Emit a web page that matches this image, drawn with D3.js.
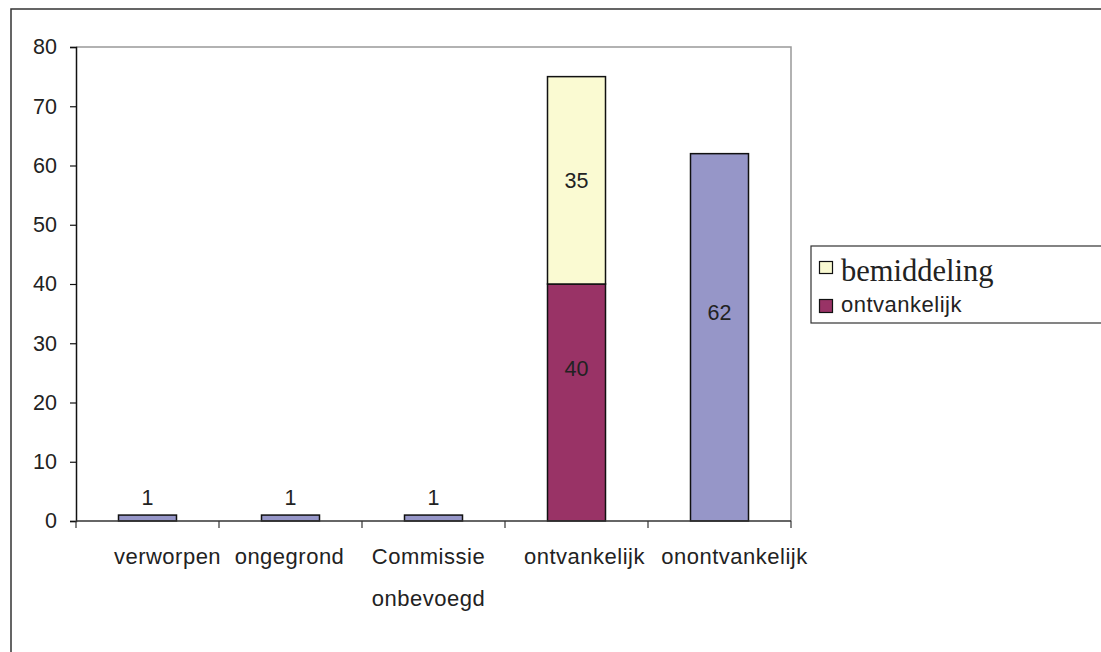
<!DOCTYPE html>
<html>
<head>
<meta charset="utf-8">
<script src="https://cdn.jsdelivr.net/npm/d3@7"></script>
<style>
  html, body { margin: 0; padding: 0; background: #fff; }
  svg { display: block; }
</style>
</head>
<body>
<svg id="chart" width="1101" height="652"></svg>
<script>
// Categories (each may wrap over two lines) and the stacked series
const categories = ["verworpen", "ongegrond", "Commissie onbevoegd", "ontvankelijk", "onontvankelijk"];
const categoryLines = [["verworpen"], ["ongegrond"], ["Commissie", "onbevoegd"], ["ontvankelijk"], ["onontvankelijk"]];
const baseValues = [1, 1, 1, 0, 62];          // single blue-grey bars
const ontvankelijkValues = [0, 0, 0, 40, 0];  // lower stacked segment
const bemiddelingValues = [0, 0, 0, 35, 0];   // upper stacked segment
const yTicks = [0, 10, 20, 30, 40, 50, 60, 70, 80];
const legendLabels = ["bemiddeling", "ontvankelijk"];

const svg = d3.select("#chart");
const plot = { left: 76, right: 791, top: 47, bottom: 521 };
const sans = "Liberation Sans, Arial, sans-serif";
const fs = 21.5;

// Outer chart frame (extends past the right and bottom edges)
svg.append("rect")
  .attr("x", 11).attr("y", 9).attr("width", 1200).attr("height", 800)
  .attr("fill", "none").attr("stroke", "#333").attr("stroke-width", 1.5);

const x = d3.scaleBand().domain(categories).range([plot.left, plot.right]).paddingInner(0).paddingOuter(0);
const y = d3.scaleLinear().domain([0, 80]).range([plot.bottom, plot.top]);

// Plot area border: top and right in grey
svg.append("path")
  .attr("d", `M${plot.left},${plot.top}H${plot.right}V${plot.bottom}`)
  .attr("fill", "none").attr("stroke", "#999").attr("stroke-width", 1.5);

const colors = { base: "#9696c8", ontvankelijk: "#993366", bemiddeling: "#fafad2" };
const barW = 58;
const cx = c => x(c) + x.bandwidth() / 2;

function drawBar(cat, y0, y1, fill) {
  svg.append("rect")
    .attr("x", cx(cat) - barW / 2)
    .attr("y", y(y1))
    .attr("width", barW)
    .attr("height", y(y0) - y(y1))
    .attr("fill", fill)
    .attr("stroke", "#111")
    .attr("stroke-width", 1.5);
}

categories.forEach((c, i) => {
  if (baseValues[i] > 0) drawBar(c, 0, baseValues[i], colors.base);
  if (ontvankelijkValues[i] > 0) drawBar(c, 0, ontvankelijkValues[i], colors.ontvankelijk);
  if (bemiddelingValues[i] > 0) drawBar(c, ontvankelijkValues[i], ontvankelijkValues[i] + bemiddelingValues[i], colors.bemiddeling);
});

// Y axis
const yAxis = d3.axisLeft(y).tickValues(yTicks).tickSize(6).tickPadding(13);
const gy = svg.append("g").attr("transform", `translate(${plot.left},0)`).call(yAxis);
gy.select(".domain").attr("stroke", "#111").attr("stroke-width", 1.5);
gy.selectAll(".tick line").attr("stroke", "#111").attr("stroke-width", 1.2);
gy.selectAll(".tick text")
  .attr("font-family", sans)
  .attr("font-size", fs).attr("fill", "#222");

// X axis line with ticks on band boundaries
svg.append("line")
  .attr("x1", plot.left).attr("x2", plot.right)
  .attr("y1", plot.bottom).attr("y2", plot.bottom)
  .attr("stroke", "#333").attr("stroke-width", 1.5);
const boundaries = categories.map(c => x(c)).concat([plot.right]);
svg.selectAll(".xtick").data(boundaries).enter().append("line")
  .attr("x1", d => d).attr("x2", d => d)
  .attr("y1", plot.bottom).attr("y2", plot.bottom + 7)
  .attr("stroke", "#333").attr("stroke-width", 1.2);

// Category labels, nudged sideways so neighbouring labels keep a gap
const labelNudge = [20, -1, -5, 8, 15];
categories.forEach((c, i) => {
  const lx = cx(c) + labelNudge[i];
  const t = svg.append("text")
    .attr("x", lx).attr("y", 564)
    .attr("text-anchor", "middle")
    .attr("font-family", sans)
    .attr("font-size", 22).attr("letter-spacing", 0.5).attr("fill", "#222");
  categoryLines[i].forEach((line, j) => {
    t.append("tspan").attr("x", lx).attr("dy", j === 0 ? 0 : 42).text(line);
  });
});

// Value labels
const labelStyle = sel => sel
  .attr("text-anchor", "middle")
  .attr("font-family", sans)
  .attr("font-size", fs).attr("fill", "#222");

categories.forEach((c, i) => {
  const v = baseValues[i];
  if (v > 0 && v < 5) {
    svg.append("text").call(labelStyle)
      .attr("x", cx(c)).attr("y", y(v) - 10).text(v);
  } else if (v > 0) {
    svg.append("text").call(labelStyle)
      .attr("x", cx(c)).attr("y", y(v * 0.57) + 8).text(v);
  }
  const o = ontvankelijkValues[i];
  if (o > 0) {
    svg.append("text").call(labelStyle)
      .attr("x", cx(c)).attr("y", y(o * 0.64) + 7).text(o);
  }
  const b = bemiddelingValues[i];
  if (b > 0) {
    svg.append("text").call(labelStyle)
      .attr("x", cx(c)).attr("y", y(o + b / 2) + 8).text(b);
  }
});

// Legend
const lg = svg.append("g");
lg.append("rect")
  .attr("x", 811).attr("y", 246).attr("width", 400).attr("height", 77)
  .attr("fill", "#fff").attr("stroke", "#333").attr("stroke-width", 1.2);
lg.append("rect").attr("x", 819.5).attr("y", 261.5).attr("width", 13).attr("height", 12)
  .attr("fill", colors.bemiddeling).attr("stroke", "#111").attr("stroke-width", 1.2);
lg.append("text").attr("x", 841).attr("y", 281)
  .attr("font-family", "Liberation Serif, Times New Roman, serif")
  .attr("font-size", 30.5).attr("fill", "#222").text(legendLabels[0]);
lg.append("rect").attr("x", 819.5).attr("y", 299.5).attr("width", 13).attr("height", 13)
  .attr("fill", colors.ontvankelijk).attr("stroke", "#111").attr("stroke-width", 1.2);
lg.append("text").attr("x", 841).attr("y", 312)
  .attr("font-family", sans)
  .attr("font-size", 22).attr("letter-spacing", 0.5).attr("fill", "#222").text(legendLabels[1]);
</script>
</body>
</html>
